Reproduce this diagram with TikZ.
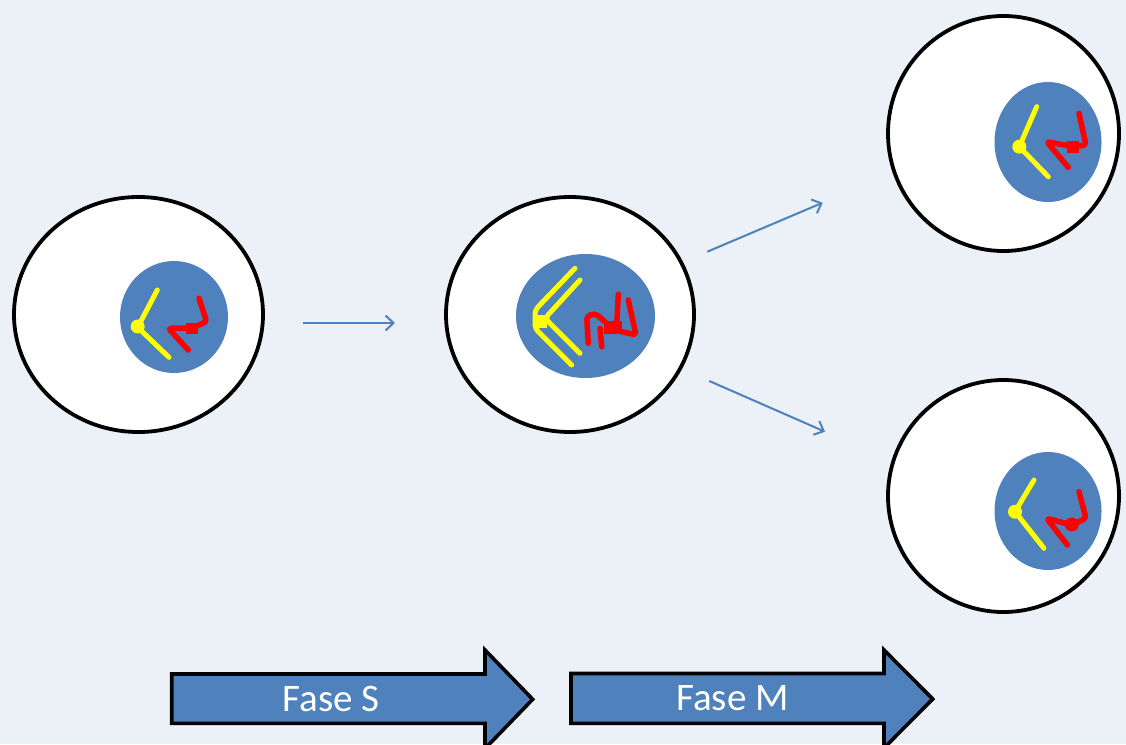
\documentclass[tikz,border=0pt]{standalone}
\usepackage{fontspec}
\setsansfont{Carlito}
\usetikzlibrary{arrows.meta,shapes.geometric}
\definecolor{bgcol}{HTML}{EBF1F6}
\definecolor{nucblue}{HTML}{4F81BD}
\definecolor{chromY}{HTML}{FFFF00}
\definecolor{chromR}{HTML}{FF0000}
\tikzset{
  cell/.style={ellipse, draw=black, line width=3.8pt, fill=white, inner sep=0pt},
  nucleus/.style={ellipse, fill=nucblue, draw=none, inner sep=0pt},
  ychrom/.style={draw=chromY, line width=5pt, line cap=round, line join=round, rounded corners=4pt},
  rchrom/.style={draw=chromR, line width=5.5pt, line cap=round, line join=round, rounded corners=3pt},
  flow/.style={draw=nucblue, line width=2pt, -{Straight Barb[length=8pt,width=15pt,line width=2pt]}},
  phase/.style={draw=black, line width=3.6pt, fill=nucblue, line join=miter},
  phaselabel/.style={font=\sffamily\fontsize{39}{41}\selectfont, text=white, inner sep=0pt}
}
\begin{document}
\begin{tikzpicture}[x=1pt,y=-1pt]
  \fill[bgcol] (0,0) rectangle (1126,744);
  \useasboundingbox (0,0) rectangle (1126,744);

  % cells
  \node[cell, minimum width=249pt, minimum height=235pt] (c1) at (138.5,314.5) {};
  \node[cell, minimum width=248pt, minimum height=235pt] (c2) at (570,314.5) {};
  \node[cell, minimum width=231pt, minimum height=235pt] (c3) at (1003.5,133.5) {};
  \node[cell, minimum width=231pt, minimum height=232pt] (c4) at (1003.5,496) {};

  % nuclei
  \node[nucleus, minimum width=108pt, minimum height=112pt] (n1) at (174,317) {};
  \node[nucleus, minimum width=139pt, minimum height=124pt] (n2) at (585.5,316) {};
  \node[nucleus, minimum width=107pt, minimum height=120pt] (n3) at (1048,142) {};
  \node[nucleus, minimum width=107pt, minimum height=118pt] (n4) at (1048,511) {};

  % first cell: one chromatid each
  \draw[ychrom] (157.3,290) -- (137.7,327.3) -- (169,357.3);
  \fill[chromY] (137.7,326.5) circle (7pt);
  \draw[rchrom] (199,298.3) -- (206.7,321.7) -- (191.7,328) -- (168.3,328.3) -- (188.3,350);
  \fill[chromR] (185.5,322.5) rectangle (197.5,334);

  % second cell: duplicated chromosomes
  \draw[ychrom] (575,268.3) -- (535,310) -- (535,328.3) -- (571.7,365);
  \draw[ychrom] (580,280) -- (545,318.3) -- (580,353.3);
  \fill[chromY] (533,314.5) rectangle (547,327.5);
  \draw[rchrom] (618.3,294.3) -- (616.7,325);
  \draw[rchrom] (628.3,300) -- (636,335) -- (621.7,331.7);
  \draw[rchrom] (588.3,343.3) -- (586.7,316.7) -- (595,313.3) -- (606.7,323.3);
  \draw[rchrom] (600,328.3) -- (601.7,346.7);
  \fill[chromR] (603.5,321) rectangle (621.5,334);

  % daughter cell, top
  \draw[ychrom] (1036.7,106.7) -- (1019.3,146.7) -- (1048.3,176.7);
  \fill[chromY] (1019.3,146.7) circle (7pt);
  \draw[rchrom] (1079,113.3) -- (1086,145) -- (1073.3,146.7) -- (1046.7,141.7) -- (1068.3,167.3);
  \fill[chromR] (1067.3,140.7) rectangle (1079.3,152.7);

  % daughter cell, bottom
  \draw[ychrom] (1034,480) -- (1015,511.7) -- (1044,548.3);
  \fill[chromY] (1015,511.7) circle (7pt);
  \draw[rchrom] (1079,491.7) -- (1086,518.3) -- (1071.7,525) -- (1046.7,518.3) -- (1067.3,545);
  \fill[chromR] (1071.7,524.5) circle (7pt);

  % transition arrows
  \coordinate (a1s) at (303,323);
  \coordinate (a1e) at (395,323);
  \coordinate (a2s) at (707.3,251.7);
  \coordinate (a2e) at (822.7,202.7);
  \coordinate (a3s) at (709.3,381);
  \coordinate (a3e) at (825,431.7);
  \draw[flow] (a1s) -- (a1e);
  \draw[flow] (a2s) -- (a2e);
  \draw[flow] (a3s) -- (a3e);

  % phase block arrows
  \draw[phase] (171.7,674) -- (485,674) -- (485,650) -- (532.7,699.3) -- (485,748.6)
    -- (485,723.3) -- (171.7,723.3) -- cycle;
  \node[phaselabel] (fs) at (331,698.5) {Fase S};
  \draw[phase] (571,673.5) -- (884,673.5) -- (884,650) -- (932.7,699) -- (884,748)
    -- (884,723.3) -- (571,723.3) -- cycle;
  \node[phaselabel] (fm) at (732.5,698.5) {Fase M};
\end{tikzpicture}
\end{document}
